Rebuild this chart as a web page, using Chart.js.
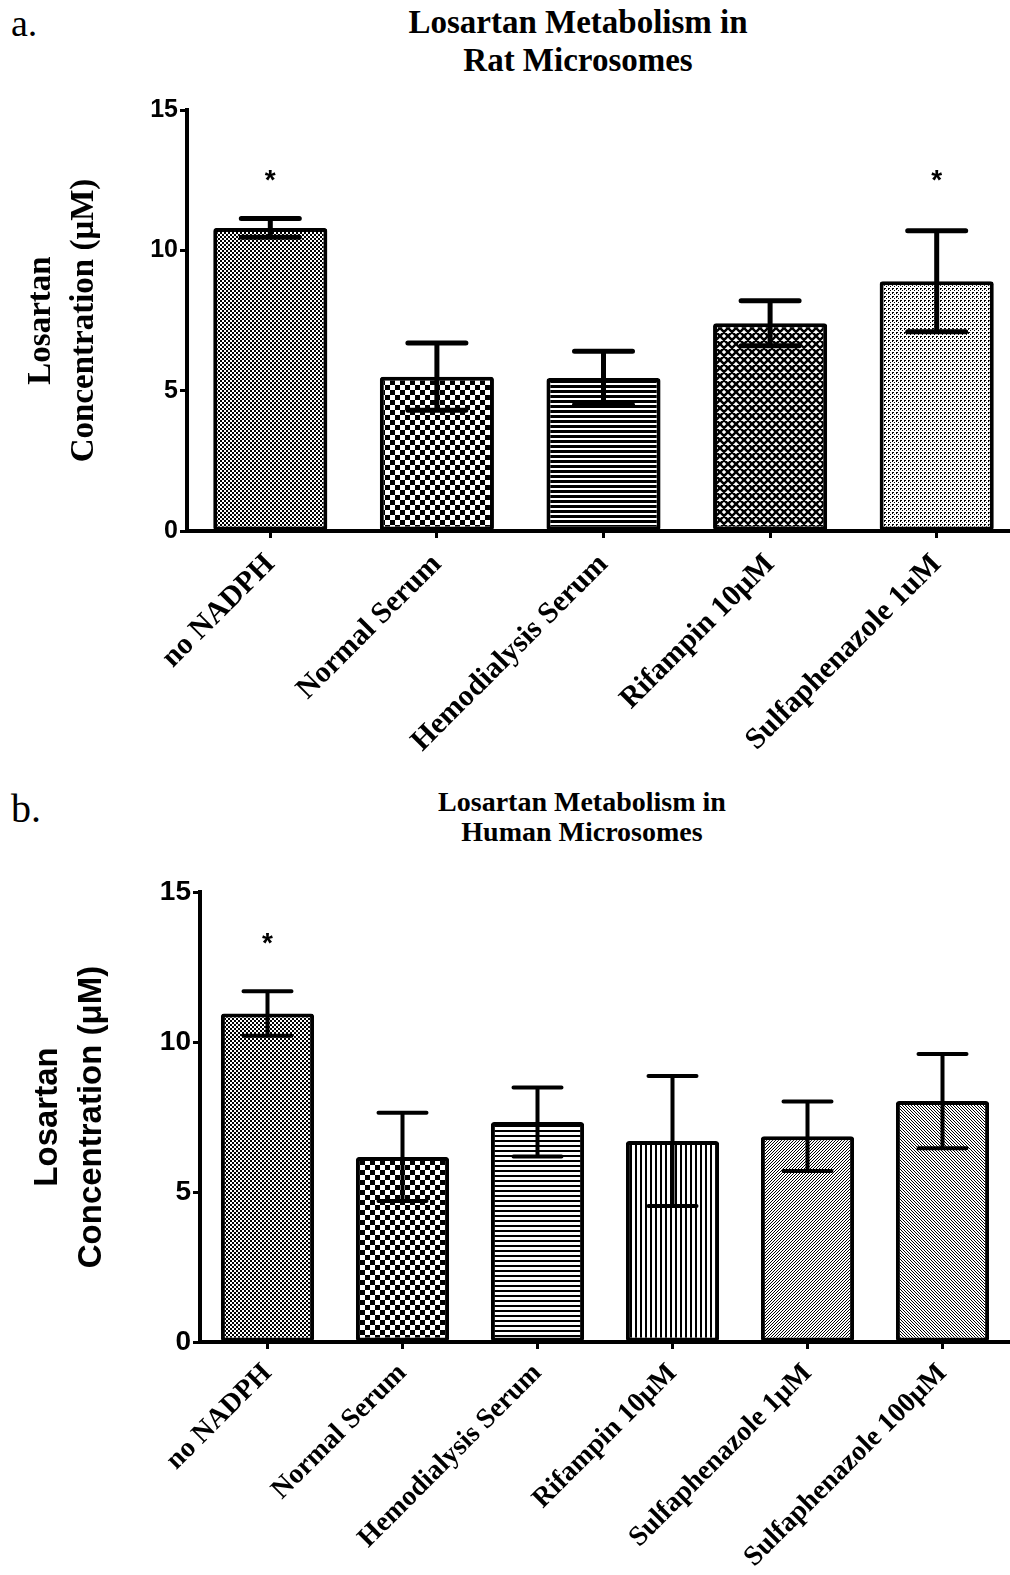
<!DOCTYPE html>
<html>
<head>
<meta charset="utf-8">
<script src="https://cdn.jsdelivr.net/npm/chart.js@4.4.0/dist/chart.umd.min.js"></script>
<style>
  html, body { margin: 0; padding: 0; background: #fff; width: 1010px; height: 1575px; overflow: hidden; position: relative; }
  canvas { position: absolute; left: 0; }
  .txt { position: absolute; font-family: "Liberation Serif", serif; color: #000; white-space: nowrap; }
  .tag { font-size: 38px; line-height: 40px; left: 11px; }
  .title { font-weight: bold; text-align: center; width: 600px; }
</style>
</head>
<body>
<div class="txt tag" style="top:3px">a.</div>
<div class="txt title" style="top:3px; left:278px; font-size:33px; line-height:38px">Losartan Metabolism in<br>Rat Microsomes</div>
<canvas id="ratChart" width="1020" height="760" style="top:0"></canvas>

<div class="txt tag" style="top:789px; font-size:40px">b.</div>
<div class="txt title" style="top:787px; left:282px; font-size:28px; line-height:30px">Losartan Metabolism in<br>Human Microsomes</div>
<canvas id="humanChart" width="1010" height="805" style="top:770px"></canvas>

<script>
// panel a - rat microsomes
var ratLabels = ["no NADPH", "Normal Serum", "Hemodialysis Serum", "Rifampin 10μM", "Sulfaphenazole 1uM"];
var ratMean = [10.8, 5.5, 5.45, 7.4, 8.9];
var ratSem = [0.33, 1.2, 0.95, 0.8, 1.8];
var ratStars = ["*", "", "", "", "*"];

// panel b - human microsomes
var humanLabels = ["no NADPH", "Normal Serum", "Hemodialysis Serum", "Rifampin 10μM", "Sulfaphenazole 1μM", "Sulfaphenazole 100μM"];
var humanMean = [10.95, 6.17, 7.33, 6.7, 6.86, 8.03];
var humanSem = [0.74, 1.47, 1.15, 2.17, 1.16, 1.57];
var humanStars = ["*", "", "", "", "", ""];

var yTitle = ["Losartan", "Concentration (μM)"];

// little b/w fill patterns like the prism ones
function tile(size, draw) {
    var c = document.createElement("canvas");
    c.width = size;
    c.height = size;
    var g = c.getContext("2d");
    g.fillStyle = "#fff";
    g.fillRect(0, 0, size, size);
    g.fillStyle = "#000";
    g.strokeStyle = "#000";
    draw(g, size);
    return g.createPattern(c, "repeat");
}

var fineCheck = tile(4, function(g) { g.fillRect(0, 0, 2, 2); g.fillRect(2, 2, 2, 2); });
var bigCheck = tile(10, function(g) { g.fillRect(0, 0, 5, 5); g.fillRect(5, 5, 5, 5); });
var darkLines = tile(5, function(g) { g.fillRect(0, 0, 5, 3); });
var diamonds = tile(8, function(g) {
    g.lineWidth = 2.5;
    g.beginPath();
    [-8, 0, 8].forEach(function(k) {
        g.moveTo(k, 0); g.lineTo(k + 8, 8);
        g.moveTo(k + 8, 0); g.lineTo(k, 8);
    });
    g.stroke();
});
var speckle = tile(4, function(g) { g.fillRect(0, 0, 2, 1); g.fillRect(0, 1, 1, 1); g.fillRect(2, 2, 1, 1); });
var hLines = tile(5, function(g) { g.fillRect(0, 0, 5, 2); });
var vLines = tile(5, function(g) { g.fillRect(0, 0, 2, 5); });
var slash = tile(3, function(g) {
    for (var i = 0; i < 3; i++) g.fillRect(i, 2 - i, 1, 1);
});
var backslash = tile(3, function(g) {
    for (var i = 0; i < 3; i++) g.fillRect(i, i, 1, 1);
});

// error bars (mean +/- sem) and the significance stars
var errorBarPlugin = {
    id: "errorBars",
    afterDatasetsDraw: function(chart, args, opts) {
        var ctx = chart.ctx;
        var x = chart.scales.x, y = chart.scales.y;
        var vals = chart.data.datasets[0].data;
        ctx.save();
        ctx.strokeStyle = "#000";
        ctx.lineWidth = opts.width;
        ctx.lineCap = "round";
        vals.forEach(function(v, i) {
            var cx = x.getPixelForValue(i);
            var top = y.getPixelForValue(v + opts.sem[i]);
            var bot = y.getPixelForValue(v - opts.sem[i]);
            ctx.beginPath();
            ctx.moveTo(cx, top); ctx.lineTo(cx, bot);
            ctx.moveTo(cx - opts.cap, top); ctx.lineTo(cx + opts.cap, top);
            ctx.moveTo(cx - opts.cap, bot); ctx.lineTo(cx + opts.cap, bot);
            ctx.stroke();
            if (opts.stars[i]) {
                ctx.fillStyle = "#000";
                ctx.font = "bold " + opts.starSize + "px 'Liberation Sans'";
                ctx.textAlign = "center";
                ctx.textBaseline = "middle";
                ctx.fillText(opts.stars[i], cx, y.getPixelForValue(opts.starLevel) + opts.starSize * 0.25);
            }
        });
        ctx.restore();
    }
};

function makeChart(id, labels, means, sems, stars, fills, o) {
    return new Chart(document.getElementById(id), {
        type: "bar",
        data: {
            labels: labels,
            datasets: [{
                data: means,
                backgroundColor: fills,
                borderColor: "#000",
                borderWidth: 4,
                borderSkipped: false,
                borderRadius: 3,
                barPercentage: o.barPct,
                categoryPercentage: 1
            }]
        },
        options: {
            responsive: false,
            animation: false,
            layout: { padding: { top: o.top, right: 0, bottom: 0, left: 0 } },
            plugins: {
                legend: { display: false },
                tooltip: { enabled: false },
                title: { display: false },
                errorBars: { sem: sems, stars: stars, starLevel: o.starLevel, starSize: 28, cap: o.cap, width: o.errWidth }
            },
            scales: {
                x: {
                    offset: true,
                    grid: { display: true, offset: false, drawOnChartArea: false, tickLength: 7, tickWidth: 3, tickColor: "#000", color: "#000" },
                    border: { display: true, color: "#000", width: 4 },
                    ticks: {
                        autoSkip: false, maxRotation: 45, minRotation: 45, color: "#000", padding: o.xPad,
                        font: { family: "Liberation Serif", weight: "bold", size: o.xFont }
                    },
                    afterFit: function(s) { s.height = o.xHeight; }
                },
                y: {
                    min: 0,
                    max: 15,
                    grid: { display: true, drawOnChartArea: false, tickLength: 7, tickWidth: 3, tickColor: "#000", color: "#000" },
                    border: { display: true, color: "#000", width: 4 },
                    ticks: {
                        stepSize: 5, color: "#000", padding: 2,
                        font: { family: "Liberation Sans", weight: "bold", size: o.yFont }
                    },
                    title: {
                        display: true,
                        text: yTitle,
                        color: "#000",
                        font: o.yTitleFont,
                        padding: { top: o.yTitlePad, bottom: 0 }
                    },
                    afterFit: function(s) { s.width = o.yWidth; }
                }
            }
        },
        plugins: [errorBarPlugin]
    });
}

makeChart("ratChart", ratLabels, ratMean, ratSem, ratStars,
    [fineCheck, bigCheck, darkLines, diamonds, speckle],
    {
        top: 110, xHeight: 229, yWidth: 187, barPct: 0.685,
        cap: 29, errWidth: 5, starLevel: 12.7,
        xFont: 30, xPad: 9, yFont: 25,
        yTitleFont: { family: "Liberation Serif", weight: "bold", size: 33, lineHeight: 1.3 },
        yTitlePad: 20
    });

makeChart("humanChart", humanLabels, humanMean, humanSem, humanStars,
    [fineCheck, bigCheck, hLines, vLines, slash, backslash],
    {
        top: 122, xHeight: 233, yWidth: 200, barPct: 0.69,
        cap: 24, errWidth: 4, starLevel: 13.5,
        xFont: 28, xPad: 8, yFont: 28,
        yTitleFont: { family: "Liberation Sans", weight: "bold", size: 33, lineHeight: 1.33 },
        yTitlePad: 26
    });
</script>
</body>
</html>
